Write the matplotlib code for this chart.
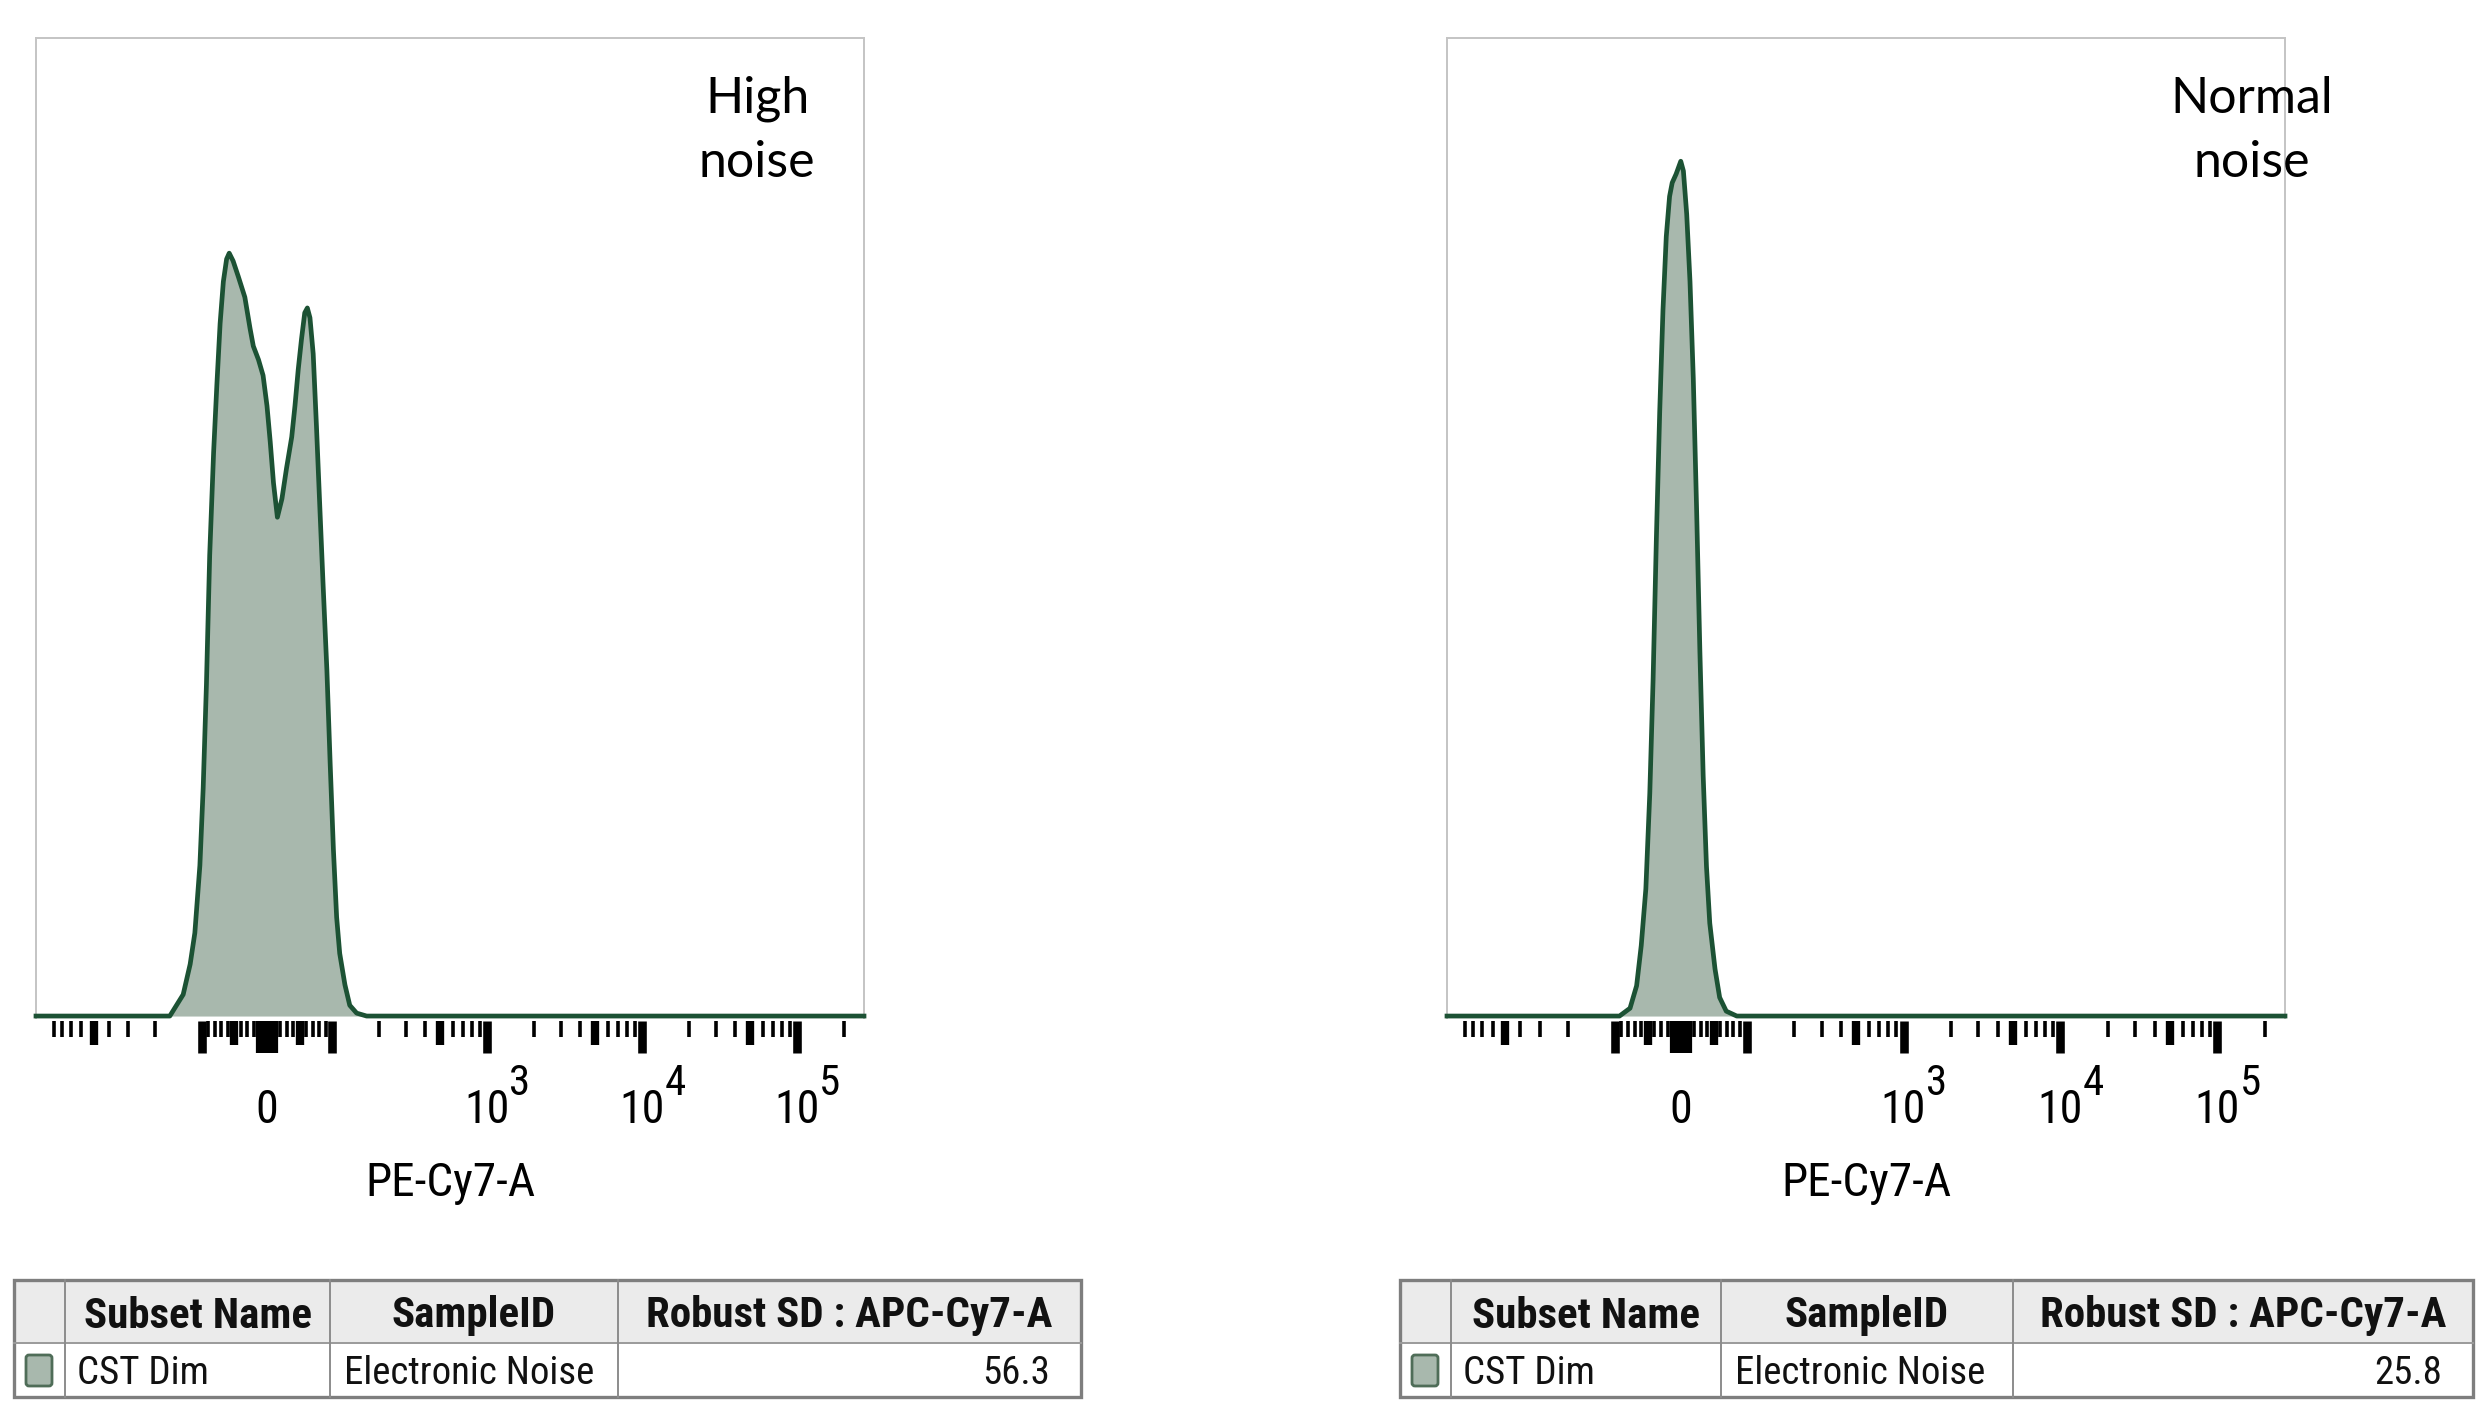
import matplotlib
matplotlib.use("Agg")
import matplotlib.pyplot as plt
from matplotlib import font_manager
from matplotlib.patches import Rectangle, FancyBboxPatch
import matplotlib.transforms as mtransforms

W, H = 2482, 1404

# ---- data (PE-Cy7-A intensity, % of plot height) ----
HIGH_X = [-1175, -161, -132, -119, -111, -103, -98, -93, -88, -82, -77, -72, -67, -62,
          -58, -52, -44, -34, -26, -21, -13, -6, 0, 5, 10, 16, 23, 30, 38, 43, 48, 53,
          58, 62, 66, 71, 76, 81, 86, 92, 97, 102, 107, 112, 121, 130, 144, 167, 270000]
HIGH_Y = [0, 0, 2.2, 5.3, 8.5, 15.4, 23.3, 33.9, 47.1, 57.6, 64.5, 70.8, 75.1, 77.4,
          78.0, 77.2, 75.6, 73.5, 70.3, 68.5, 67.1, 65.5, 62.4, 58.7, 54.5, 51.0, 52.9,
          56.0, 59.2, 62.4, 66.1, 69.2, 71.9, 72.4, 71.4, 67.7, 60.3, 52.3, 44.4, 35.4,
          25.9, 17.0, 10.1, 6.4, 3.2, 1.1, 0.3, 0, 0]
NORMAL_X = [-1175, -93, -77, -67, -60, -53, -47, -42, -37, -32, -27, -22, -17, -13, -7,
            0, 4, 9, 14, 19, 24, 29, 34, 39, 44, 52, 59, 69, 85, 270000]
NORMAL_Y = [0, 0, 0.8, 3.1, 7.2, 13.0, 22.8, 34.4, 48.9, 61.7, 72.2, 79.7, 83.8, 85.2,
            86.1, 87.4, 86.4, 82.0, 75.1, 65.2, 51.9, 37.3, 24.6, 15.3, 9.5, 4.8, 1.9,
            0.5, 0, 0]

PANEL_LABELS = [("High", "noise"), ("Normal", "noise")]
AXIS_LABEL = "PE-Cy7-A"

# tick values on the biexponential axis
TICKS_LONG = [-100, 100, 1000, 10000, 100000]
TICKS_ZERO = [0]
TICKS_MED = [-500, -50, 50, 500, 5000, 50000]
TICKS_FINE = ([-900, -800, -700, -600, -400, -300, -200]
              + [-90, -80, -70, -60, -40, -30, -20, -10, 10, 20, 30, 40, 60, 70, 80, 90]
              + [200, 300, 400, 600, 700, 800, 900]
              + [2000, 3000, 4000, 6000, 7000, 8000, 9000]
              + [20000, 30000, 40000, 60000, 70000, 80000, 90000, 200000])
TICK_LABELS = [(0, "0", ""), (1000, "10", "3"), (10000, "10", "4"), (100000, "10", "5")]

TABLE_HEADER = ["", "Subset Name", "SampleID", "Robust SD : APC-Cy7-A"]
SUBSET_NAME = "CST Dim"
SAMPLE_ID = "Electronic Noise"
ROBUST_SD = [56.3, 25.8]

# ---- fonts ----
_names = {f.name for f in font_manager.fontManager.ttflist}


def pick(*cands):
    for c in cands:
        if c in _names:
            return c
    return "DejaVu Sans"


NARROW = pick("Liberation Sans Narrow", "Roboto Condensed", "Open Sans Condensed", "DejaVu Sans")
HUMAN = pick("Lato", "Open Sans", "Noto Sans")

LINE = "#1c5234"
FILL = "#a8b8ad"
FRAME = "#c4c4c4"

fig = plt.figure(figsize=(W / 100, H / 100), dpi=100)
fig.patch.set_facecolor("white")


def px_axes(x0, x1, y0, y1):
    return fig.add_axes([x0 / W, 1 - y1 / H, (x1 - x0) / W, (y1 - y0) / H])


def draw_hist(ax, xs, ys):
    ax.set_xscale("symlog", linthresh=100, linscale=0.378)
    ax.set_xlim(-1175, 270000)
    ax.set_ylim(-0.2, 100)
    ax.fill_between(xs, ys, 0, color=FILL, lw=0, zorder=2)
    ax.plot(xs, ys, color=LINE, lw=3.4, solid_joinstyle="round", zorder=3, clip_on=False)
    for side in ("top", "left", "right"):
        ax.spines[side].set_color(FRAME)
        ax.spines[side].set_linewidth(1.4)
    ax.spines["bottom"].set_visible(False)
    ax.set_xticks([])
    ax.set_yticks([])
    ax.minorticks_off()
    trans = mtransforms.blended_transform_factory(ax.transData, ax.transAxes)
    ax.vlines(TICKS_FINE, -0.003, -0.0195, color="black", lw=2.6, transform=trans, clip_on=False)
    ax.vlines(TICKS_MED, -0.003, -0.028, color="black", lw=6.0, transform=trans, clip_on=False)
    ax.vlines(TICKS_LONG, -0.003, -0.036, color="black", lw=6.2, transform=trans, clip_on=False)
    ax.vlines(TICKS_ZERO, -0.003, -0.036, color="black", lw=16, transform=trans, clip_on=False)
    for val, base, sup in TICK_LABELS:
        ax.text(val, -0.094, base, transform=trans, ha="center", va="center",
                fontsize=33, family=NARROW)
        if sup:
            ax.annotate(sup, xy=(val, -0.094), xycoords=trans, xytext=(16, 19),
                        textcoords="offset points", ha="left", va="center",
                        fontsize=31, family=NARROW)
    ax.text(0.5, -0.168, AXIS_LABEL, transform=ax.transAxes, ha="center", va="center",
            fontsize=34, family=NARROW)


ax1 = px_axes(36, 864, 38, 1018)
draw_hist(ax1, HIGH_X, HIGH_Y)
ax2 = px_axes(1447, 2285, 38, 1018)
draw_hist(ax2, NORMAL_X, NORMAL_Y)

# overlay in pixel coordinates for annotations and the stats tables
lay = fig.add_axes([0, 0, 1, 1], zorder=5)
lay.set_xlim(0, W)
lay.set_ylim(H, 0)
lay.axis("off")
lay.patch.set_alpha(0)

for cx, (l1, l2) in zip((757, 2252), PANEL_LABELS):
    lay.text(cx, 99, l1, ha="center", va="center", fontsize=36, family=HUMAN)
    lay.text(cx, 163, l2, ha="center", va="center", fontsize=36, family=HUMAN)


def draw_table(x0, cols, x1, value):
    top, mid, bot = 1280, 1343, 1397
    lay.add_patch(Rectangle((x0, top), x1 - x0, mid - top, facecolor="#ebebeb", edgecolor="none"))
    lay.add_patch(Rectangle((x0, mid), x1 - x0, bot - mid, facecolor="white", edgecolor="none"))
    lay.plot([x0, x1], [mid, mid], color="#9a9a9a", lw=1.4)
    for c in cols:
        lay.plot([c, c], [top, bot], color="#8c8c8c", lw=1.4)
    lay.add_patch(Rectangle((x0, top), x1 - x0, bot - top, facecolor="none",
                            edgecolor="#7e7e7e", lw=2.4))
    edges = [x0] + cols + [x1]
    for i, name in enumerate(TABLE_HEADER):
        if not name:
            continue
        lay.text((edges[i] + edges[i + 1]) / 2, 1316, name, ha="center", va="center",
                 fontsize=31, fontweight="bold", family=NARROW, color="#111111")
    # colour swatch
    lay.add_patch(FancyBboxPatch((x0 + 12, 1355), 26, 31, boxstyle="round,pad=0,rounding_size=3",
                                 facecolor=FILL, edgecolor="#4f6d58", lw=2.0))
    lay.text(cols[0] + 12, 1374, SUBSET_NAME, ha="left", va="center", fontsize=28,
             family=NARROW, color="#111111")
    lay.text(cols[1] + 14, 1374, SAMPLE_ID, ha="left", va="center", fontsize=28,
             family=NARROW, color="#111111")
    lay.text(x1 - 31, 1374, f"{value:.1f}", ha="right", va="center", fontsize=28,
             family=NARROW, color="#111111")


draw_table(14, [65, 330, 618], 1081, ROBUST_SD[0])
draw_table(1400, [1451, 1721, 2013], 2473, ROBUST_SD[1])

fig.savefig("out.png", dpi=100, facecolor="white")
